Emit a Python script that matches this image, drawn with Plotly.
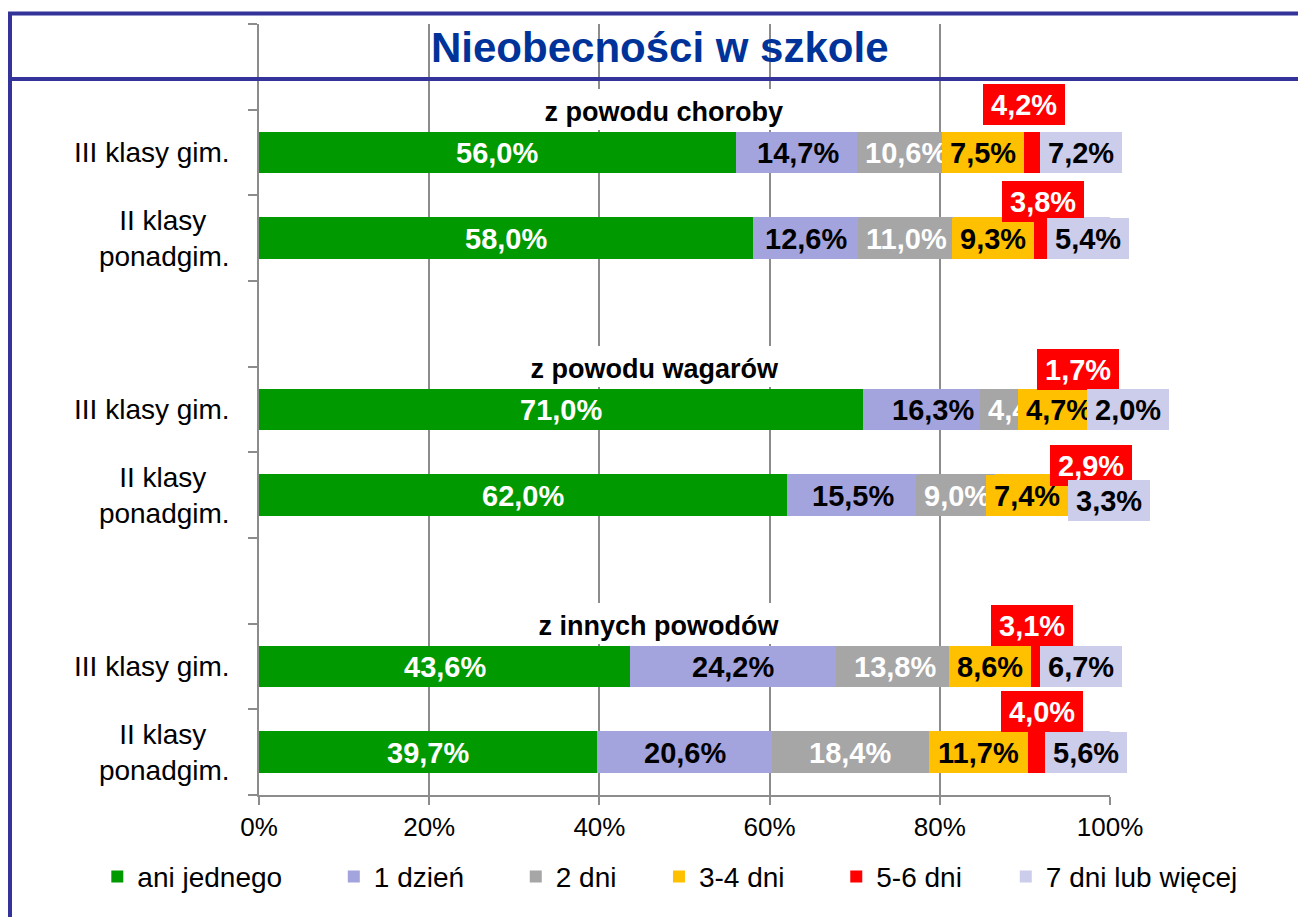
import plotly.graph_objects as go

# ---------------- data ----------------
series_names = ["ani jednego", "1 dzień", "2 dni", "3-4 dni", "5-6 dni", "7 dni lub więcej"]
row_labels = ["III klasy gim.", "II klasy<br>ponadgim.",
              "III klasy gim.", "II klasy<br>ponadgim.",
              "III klasy gim.", "II klasy<br>ponadgim."]
group_titles = ["z powodu choroby", "z powodu wagarów", "z innych powodów"]

ani_jednego = [56.0, 58.0, 71.0, 62.0, 43.6, 39.7]
jeden_dzien = [14.7, 12.6, 16.3, 15.5, 24.2, 20.6]
dwa_dni = [10.6, 11.0, 4.4, 9.0, 13.8, 18.4]
trzy_cztery_dni = [7.5, 9.3, 4.7, 7.4, 8.6, 11.7]
piec_szesc_dni = [4.2, 3.8, 1.7, 2.9, 3.1, 4.0]
siedem_plus = [7.2, 5.4, 2.0, 3.3, 6.7, 5.6]

x_ticks = [0, 20, 40, 60, 80, 100]
title_text = "Nieobecności w szkole"

# ---------------- style / layout ----------------
FONT = "Liberation Sans, Arial, sans-serif"
NB = "\u00a0"
colors = ["#009900", "#A3A3DD", "#A6A6A6", "#FFC000", "#FF0000", "#CCCCEB"]
text_colors = ["white", "black", "white", "black", "white", "black"]
GRID = "#8C8C8C"
FRAME = "#333399"

row_pos = [2, 3, 5, 6, 8, 9]          # slots (1, 4, 7 are the gaps under group titles)
title_slots = [1.5, 4.5, 7.5]
title_x = [47.5, 46.5, 47.0]
legend_pad = [6, 6, 0, 6, 5, 0]       # trailing spaces after legend names

# manual offsets (px) of some data labels, as in the original chart
label_shift = {
    (4, 0): (-9, 48), (4, 1): (-6, 37), (4, 2): (-9, 40),
    (4, 3): (21, 30), (4, 4): (-8, 41), (4, 5): (-3, 41),
    (5, 2): (26, 0), (5, 3): (12, -5),
}

all_series = [ani_jednego, jeden_dzien, dwa_dni, trzy_cztery_dni, piec_szesc_dni, siedem_plus]


def fmt(v):
    return f"{v:.1f}".replace(".", ",") + "%"


fig = go.Figure()
for s, (name, vals) in enumerate(zip(series_names, all_series)):
    fig.add_trace(go.Bar(
        x=vals, y=row_pos, orientation="h", name=name + NB * legend_pad[s],
        marker=dict(color=colors[s], line=dict(width=0)),
        legend="legend" if s < 3 else "legend2",
        hoverinfo="skip",
    ))

annotations = []
cum = [0.0] * len(row_pos)
for s, vals in enumerate(all_series):
    for r, v in enumerate(vals):
        center = cum[r] + v / 2
        xs, ys = label_shift.get((s, r), (0, 0))
        annotations.append(dict(
            x=center, y=row_pos[r], xref="x", yref="y",
            text=NB + fmt(v) + NB, showarrow=False,
            font=dict(family=FONT, size=29, color=text_colors[s], weight="bold"),
            bgcolor=colors[s], borderpad=0, borderwidth=0, height=41,
            xshift=xs, yshift=ys,
        ))
        cum[r] += v

for t, yv, xv in zip(group_titles, title_slots, title_x):
    annotations.append(dict(
        x=xv, y=yv, xref="x", yref="y", text=NB + t + NB, showarrow=False,
        font=dict(family=FONT, size=27, color="black", weight="bold"),
        bgcolor="white", borderpad=3, borderwidth=0, height=35, valign="bottom",
        yshift=0,
    ))

# chart title
annotations.append(dict(
    x=0.4712, y=0.969, xref="paper", yref="paper", text=title_text, showarrow=False,
    font=dict(family=FONT, size=42, color="#003399", weight="bold"),
    xanchor="center", yanchor="middle",
))

shapes = [
    dict(type="line", xref="paper", yref="paper", x0=-0.2949, x1=1.23, y0=1.0136, y1=1.0136,
         line=dict(color=FRAME, width=4)),
    dict(type="line", xref="paper", yref="paper", x0=-0.2926, x1=1.23, y0=0.9287, y1=0.9287,
         line=dict(color=FRAME, width=4)),
    dict(type="line", xref="paper", yref="paper", x0=-0.2926, x1=-0.2926, y0=1.0156, y1=-0.17,
         line=dict(color=FRAME, width=4)),
]

fig.update_layout(
    width=1298, height=917,
    margin=dict(l=259, r=188, t=24, b=122, pad=0),
    paper_bgcolor="white", plot_bgcolor="white",
    barmode="stack", bargap=0.51,
    font=dict(family=FONT, color="black"),
    annotations=annotations, shapes=shapes,
    showlegend=True,
    legend=dict(orientation="h", x=-0.19, xanchor="left", y=-0.106, yanchor="middle",
                font=dict(family=FONT, size=28, color="black"), bgcolor="rgba(0,0,0,0)",
                traceorder="normal"),
    legend2=dict(orientation="h", x=0.47, xanchor="left", y=-0.106, yanchor="middle",
                 font=dict(family=FONT, size=28, color="black"), bgcolor="rgba(0,0,0,0)",
                 traceorder="normal"),
    xaxis=dict(range=[0, 100], tickvals=x_ticks, ticktext=[f"{t}%" for t in x_ticks],
               showgrid=True, gridcolor=GRID, gridwidth=1.5,
               showline=True, linecolor=GRID, linewidth=1.5,
               ticks="outside", ticklen=8, tickcolor=GRID, tickwidth=1.5,
               tickfont=dict(family=FONT, size=26, color="black"), zeroline=False),
    yaxis=dict(range=[9.5, 0.5], tickvals=row_pos,
               ticktext=[lbl.replace("II klasy<br>", "II klasy" + NB * 3 + "<br>") for lbl in row_labels],
               ticks="outside", ticklen=22, tickcolor="rgba(0,0,0,0)",
               minor=dict(tickmode="linear", tick0=0.5, dtick=1, ticks="outside",
                          ticklen=9, tickcolor=GRID, tickwidth=1.5, showgrid=False),
               showline=True, linecolor=GRID, linewidth=1.5, showgrid=False, zeroline=False,
               tickfont=dict(family=FONT, size=28, color="black")),
)

fig.write_html("out.html", config={"displayModeBar": False},
               post_script="document.body.style.margin='0';")
